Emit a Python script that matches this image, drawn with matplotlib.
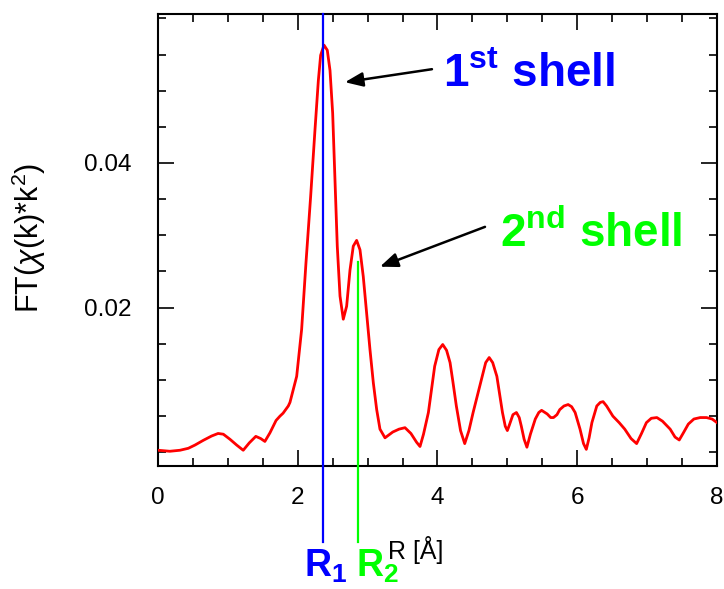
import matplotlib
matplotlib.use("Agg")
import matplotlib.pyplot as plt
from matplotlib.ticker import MultipleLocator, FixedLocator

plt.rcParams['font.family'] = ['Liberation Sans', 'DejaVu Sans']
plt.rcParams['mathtext.fontset'] = 'custom'
plt.rcParams['mathtext.rm'] = 'Liberation Sans'
plt.rcParams['mathtext.it'] = 'Liberation Sans:italic'
plt.rcParams['mathtext.bf'] = 'Liberation Sans:bold'
plt.rcParams['mathtext.sf'] = 'Liberation Sans'

# Data
r_values = [0.00, 0.17, 0.315, 0.434, 0.53, 0.65, 0.768, 0.86, 0.935, 1.03, 1.126, 1.22,
            1.307, 1.40, 1.47, 1.53, 1.603, 1.69, 1.746, 1.79, 1.865, 1.889, 1.985,
            2.056, 2.118, 2.185, 2.247, 2.295, 2.328, 2.376, 2.423, 2.462, 2.50, 2.533,
            2.566, 2.605, 2.652, 2.70, 2.748, 2.795, 2.843, 2.891, 2.938, 2.986, 3.034,
            3.082, 3.13, 3.177, 3.249, 3.32, 3.36, 3.45, 3.535, 3.62, 3.70, 3.75, 3.80,
            3.87, 3.92, 3.96, 4.02, 4.075, 4.13, 4.18, 4.22, 4.27, 4.33, 4.39, 4.45,
            4.51, 4.57, 4.63, 4.69, 4.74, 4.79, 4.85, 4.89, 4.93, 4.97, 5.00, 5.03,
            5.08, 5.13, 5.17, 5.20, 5.24, 5.28, 5.33, 5.40, 5.45, 5.49, 5.57, 5.62,
            5.66, 5.71, 5.75, 5.81, 5.87, 5.92, 5.97, 6.04, 6.09, 6.13, 6.17, 6.21,
            6.28, 6.33, 6.37, 6.42, 6.51, 6.60, 6.68, 6.77, 6.85, 6.92, 6.99, 7.06,
            7.14, 7.22, 7.33, 7.40, 7.46, 7.52, 7.59, 7.67, 7.76, 7.85, 7.93, 8.00]
ft_values = [0.00028, 0.00014, 0.00028, 0.00055, 0.0010, 0.00166, 0.00225, 0.0026, 0.0025,
             0.0018, 0.0010, 0.00028, 0.0013, 0.0022, 0.0019, 0.0015, 0.0027, 0.0044,
             0.0050, 0.0054, 0.0064, 0.0069, 0.0105, 0.0170, 0.0262, 0.0354, 0.0446,
             0.0514, 0.0549, 0.0563, 0.0556, 0.0528, 0.0469, 0.0377, 0.0285, 0.0216,
             0.0184, 0.0202, 0.0252, 0.0285, 0.0293, 0.0280, 0.0243, 0.0193, 0.0142,
             0.0096, 0.0059, 0.0032, 0.0020, 0.0025, 0.0028, 0.0032, 0.0034, 0.0026,
             0.0014, 0.0008, 0.0025, 0.0055, 0.0090, 0.0119, 0.0142, 0.0149, 0.0141,
             0.0124, 0.0098, 0.0064, 0.0030, 0.0012, 0.0030, 0.0055, 0.0078, 0.0101,
             0.0124, 0.0131, 0.0124, 0.0105, 0.0080, 0.0055, 0.0036, 0.0030, 0.0038,
             0.0052, 0.0055, 0.0048, 0.0036, 0.0018, 0.0007, 0.0025, 0.0046, 0.0055,
             0.0058, 0.0053, 0.0048, 0.0048, 0.0052, 0.0059, 0.0064, 0.0066, 0.0063,
             0.0055, 0.0032, 0.0012, 0.0004, 0.0020, 0.0041, 0.0064, 0.0069, 0.0070,
             0.0064, 0.0050, 0.0041, 0.0032, 0.0019, 0.0012, 0.0026, 0.0041, 0.0047,
             0.0048, 0.0043, 0.0032, 0.0021, 0.0017, 0.0027, 0.0039, 0.0046, 0.0048,
             0.0048, 0.0046, 0.0041]

r1_pos = 2.357
r2_pos = 2.862
r2_top = 0.0263
x_ticks = [0, 2, 4, 6, 8]
y_ticks = [0.02, 0.04]
y_ticklabels = ['0.02', '0.04']

fig = plt.figure(figsize=(7.24, 5.89), dpi=100)
ax = fig.add_axes([0.2182, 0.2088, 0.7721, 0.7674])

ax.plot(r_values, ft_values, color='#ff0000', lw=2.0, zorder=3,
        solid_joinstyle='round')

ax.set_xlim(0, 8)
ax.set_ylim(-0.0019, 0.0606)

line_bottom = -0.0124
ax.plot([r1_pos, r1_pos], [0.0606, line_bottom], color='#0000ff', lw=1.6,
        clip_on=False, zorder=4)
ax.plot([r2_pos, r2_pos], [r2_top, line_bottom], color='#00ff00', lw=1.6,
        clip_on=False, zorder=4)

ax.text(2.09, -0.0172, r'$\mathbf{R_1}$', color='#0000ff', fontsize=27,
        ha='left', va='baseline')
ax.text(2.834, -0.0172, r'$\mathbf{R_2}$', color='#00ff00', fontsize=27,
        ha='left', va='baseline')

ax.text(4.079, 0.0505, r'$\mathbf{1^{st}}$ shell', color='#0000ff', fontsize=33,
        fontweight='bold', ha='left', va='baseline')
ax.text(4.894, 0.0284, r'$\mathbf{2^{nd}}$ shell', color='#00ff00', fontsize=33,
        fontweight='bold', ha='left', va='baseline')

arrow_style = '-|>,head_length=0.45,head_width=0.18'
ax.annotate('', xy=(2.676, 0.05117), xytext=(3.921, 0.05297),
            arrowprops=dict(arrowstyle=arrow_style, color='black', lw=1.8,
                            mutation_scale=24, shrinkA=0, shrinkB=0))
ax.annotate('', xy=(3.177, 0.02566), xytext=(4.68, 0.03117),
            arrowprops=dict(arrowstyle=arrow_style, color='black', lw=1.8,
                            mutation_scale=24, shrinkA=0, shrinkB=0))

ax.xaxis.set_major_locator(FixedLocator(x_ticks))
ax.xaxis.set_minor_locator(MultipleLocator(0.5))
ax.set_xticklabels([str(t) for t in x_ticks])
ax.yaxis.set_major_locator(FixedLocator(y_ticks))
ax.yaxis.set_minor_locator(MultipleLocator(0.005))
ax.set_yticklabels(y_ticklabels)

ax.tick_params(which='both', direction='in', top=True, right=True, width=1.2,
               labelsize=17.5, colors='black')
ax.tick_params(which='major', length=11.3)
ax.tick_params(which='minor', length=6)
ax.tick_params(axis='x', which='major', pad=15)
ax.tick_params(axis='y', which='major', pad=19)

for s in ax.spines.values():
    s.set_linewidth(1.5)

ax.set_ylabel(r'FT($\chi$(k)*k$^2$)', fontsize=22)
ax.yaxis.set_label_coords(-0.197, 0.5055)
ax.text(0.4615, -0.2058, 'R [Å]', transform=ax.transAxes, fontsize=18,
        ha='center', va='baseline')

fig.savefig('out.png', dpi=100)
